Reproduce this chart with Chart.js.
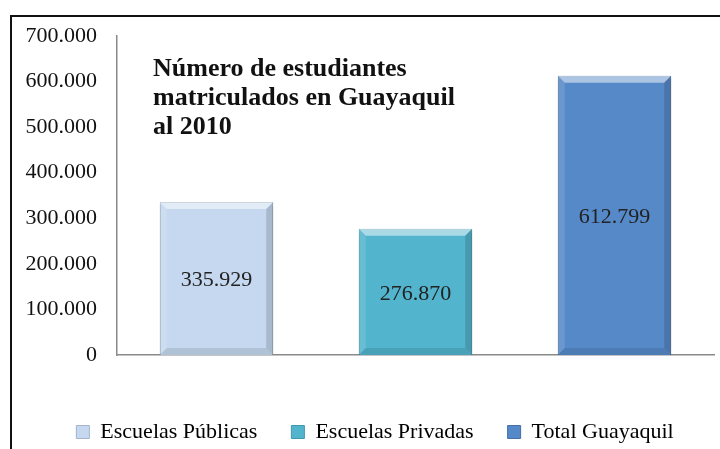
<!DOCTYPE html>
<html>
<head>
<meta charset="utf-8">
<script src="https://cdn.jsdelivr.net/npm/chart.js@4.4.1/dist/chart.umd.min.js"></script>
<style>
  html, body { margin: 0; padding: 0; background: #fff; }
  #wrap { position: relative; width: 720px; height: 449px; overflow: hidden; }
  #frame {
    position: absolute; left: 10px; top: 15px; right: 0; bottom: 0;
    border-left: 2px solid #111; border-top: 2px solid #111;
    pointer-events: none;
  }
  canvas { position: absolute; left: 0; top: 0; }
</style>
</head>
<body>
<div id="wrap">
  <canvas id="chart" width="720" height="449"></canvas>
  <div id="frame"></div>
</div>
<script>
// datos
const categorias = ['Escuelas Públicas', 'Escuelas Privadas', 'Total Guayaquil'];
const estudiantes = [335929, 276870, 612799];
const colores = ['#c5d8ef', '#52b4cd', '#5689c8'];
const bordes = ['#a3b4cc', '#3f98ae', '#456fa6'];
const titulo = ['Número de estudiantes', 'matriculados en Guayaquil', 'al 2010'];
const ticksY = [0, 100000, 200000, 300000, 400000, 500000, 600000, 700000];

const serif = "'Liberation Serif', 'Times New Roman', serif";

// formato con punto de miles
function fmt(v) {
  return String(Math.round(v)).replace(/\B(?=(\d{3})+(?!\d))/g, '.');
}

// sombra suave bajo las barras
const sombraPlugin = {
  id: 'sombra',
  beforeDatasetsDraw(chart) {
    chart.ctx.save();
    chart.ctx.shadowColor = 'rgba(0,0,0,0.3)';
    chart.ctx.shadowBlur = 4;
    chart.ctx.shadowOffsetY = 2;
  },
  afterDatasetsDraw(chart) {
    chart.ctx.restore();
  }
};

// la leyenda del original esta algo corrida a la derecha
const leyendaPlugin = {
  id: 'moverLeyenda',
  afterLayout(chart) {
    if (chart.legend) {
      chart.legend.left += 13;
      chart.legend.right += 13;
    }
  }
};

// efecto biselado de las barras + etiquetas
const biselPlugin = {
  id: 'bisel',
  afterDatasetsDraw(chart) {
    const ctx = chart.ctx;
    const meta = chart.getDatasetMeta(0);
    meta.data.forEach((bar) => {
      const l = bar.x - bar.width / 2, r = bar.x + bar.width / 2;
      const t = bar.y, b = bar.base;
      const d = 7;
      ctx.save();
      ctx.fillStyle = 'rgba(255,255,255,0.5)';
      ctx.beginPath();
      ctx.moveTo(l, t); ctx.lineTo(r, t); ctx.lineTo(r - d, t + d); ctx.lineTo(l + d, t + d);
      ctx.closePath(); ctx.fill();
      ctx.fillStyle = 'rgba(255,255,255,0.12)';
      ctx.beginPath();
      ctx.moveTo(l, t); ctx.lineTo(l + d, t + d); ctx.lineTo(l + d, b - d); ctx.lineTo(l, b);
      ctx.closePath(); ctx.fill();
      ctx.fillStyle = 'rgba(0,0,0,0.14)';
      ctx.beginPath();
      ctx.moveTo(r, t); ctx.lineTo(r - d, t + d); ctx.lineTo(r - d, b - d); ctx.lineTo(r, b);
      ctx.closePath(); ctx.fill();
      ctx.fillStyle = 'rgba(0,0,0,0.1)';
      ctx.beginPath();
      ctx.moveTo(l, b); ctx.lineTo(l + d, b - d); ctx.lineTo(r - d, b - d); ctx.lineTo(r, b);
      ctx.closePath(); ctx.fill();
      ctx.restore();
    });

    ctx.save();
    ctx.font = '22px ' + serif;
    ctx.fillStyle = '#222';
    ctx.textAlign = 'center';
    ctx.textBaseline = 'middle';
    meta.data.forEach((bar, i) => {
      ctx.fillText(fmt(estudiantes[i]), bar.x, (bar.y + bar.base) / 2 + 2);
    });
    ctx.restore();
  }
};

// titulo dentro del area del grafico
const tituloPlugin = {
  id: 'tituloInterno',
  afterDraw(chart) {
    const ctx = chart.ctx;
    const area = chart.chartArea;
    ctx.save();
    ctx.font = 'bold 26px ' + serif;
    ctx.fillStyle = '#111';
    ctx.textAlign = 'left';
    ctx.textBaseline = 'alphabetic';
    titulo.forEach((linea, i) => {
      ctx.fillText(linea, area.left + 36, area.top + 40 + i * 29);
    });
    ctx.restore();
  }
};

new Chart(document.getElementById('chart'), {
  type: 'bar',
  data: {
    labels: categorias,
    datasets: [{
      data: estudiantes,
      backgroundColor: colores,
      borderColor: bordes,
      borderWidth: 1,
      categoryPercentage: 0.57,
      barPercentage: 1
    }]
  },
  options: {
    responsive: false,
    animation: false,
    layout: { padding: { left: 10, right: 6, top: 36, bottom: -4 } },
    plugins: {
      title: { display: false },
      tooltip: { enabled: false },
      legend: {
        position: 'bottom',
        labels: {
          font: { family: serif, size: 22 },
          color: '#111',
          boxWidth: 13,
          boxHeight: 13,
          padding: 34,
          generateLabels(chart) {
            return categorias.map((c, i) => ({
              text: c,
              fillStyle: colores[i],
              strokeStyle: bordes[i],
              lineWidth: 1,
              index: i
            }));
          }
        }
      }
    },
    scales: {
      x: {
        grid: { display: false, drawTicks: false },
        border: { display: true, color: '#8a8a8a', width: 1.5 },
        ticks: { display: false },
        afterFit(scale) { scale.height = 32; }
      },
      y: {
        min: 0,
        max: 700000,
        grid: { display: false, drawTicks: false },
        border: { display: true, color: '#8a8a8a', width: 1.5 },
        afterBuildTicks(scale) { scale.ticks = ticksY.map(v => ({ value: v })); },
        ticks: {
          padding: 20,
          color: '#111',
          font: { family: serif, size: 22 },
          callback: (v) => fmt(v)
        },
        afterFit(scale) { scale.width = 107; }
      }
    }
  },
  plugins: [sombraPlugin, leyendaPlugin, biselPlugin, tituloPlugin]
});
</script>
</body>
</html>
